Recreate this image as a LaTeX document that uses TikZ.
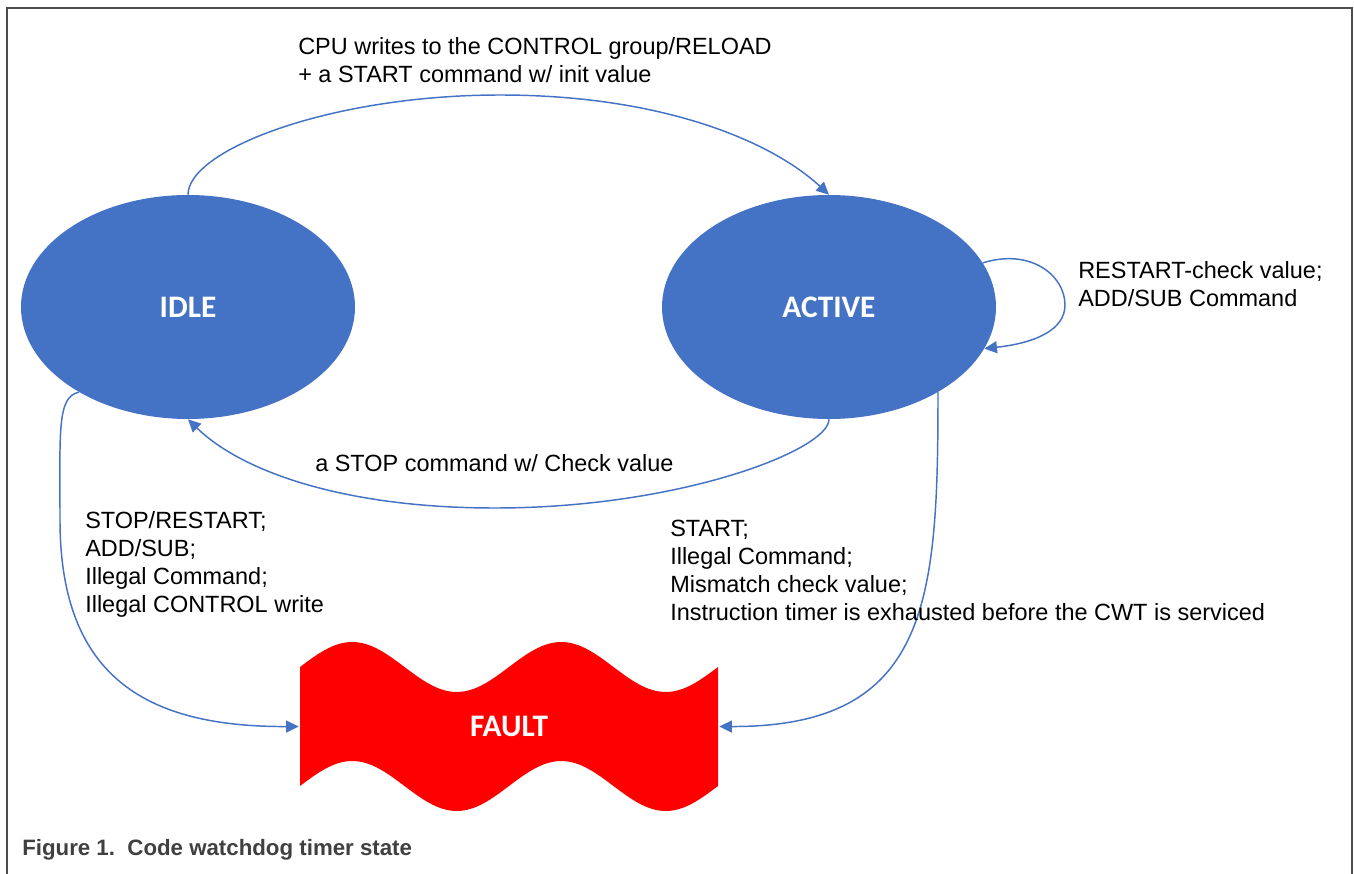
\documentclass[tikz,border=0pt]{standalone}
\usepackage{fontspec}
\setmainfont{Liberation Sans}
\newfontfamily\statefont{Carlito}
\usetikzlibrary{shapes.geometric,arrows.meta}
\definecolor{cwtblue}{HTML}{4472C4}
\definecolor{framegray}{HTML}{4D4D4D}
\definecolor{captiongray}{HTML}{404040}

\begin{document}
\begin{tikzpicture}[x=0.75pt, y=-0.75pt,
    state/.style={ellipse, fill=cwtblue, inner sep=0pt, minimum width=250.5pt, minimum height=168pt,
        text=white, font=\statefont\bfseries\fontsize{23.5}{28}\selectfont},
    trans/.style={draw=cwtblue, line width=1.1pt, -{Triangle[length=9.5pt, width=9pt]}},
    lbl/.style={anchor=west, inner sep=0pt, align=left, font=\fontsize{17.6}{21}\selectfont}]
    \useasboundingbox (0,0) rectangle (1354,874);
    % Frame
    \draw[framegray, line width=1.5pt] (7,874) -- (7,8) -- (1351.5,8) -- (1351.5,874);

    % States
    \node[state] (idle) at (188,307) {IDLE};
    \node[state] (active) at (829,307) {ACTIVE};
    \fill[red] (300,667) sin (352.25,642) cos (404.5,667) sin (456.75,692) cos (509,667)
        sin (561.25,642) cos (613.5,667) sin (665.75,692) cos (718,667) -- (718,786)
        sin (665.75,811) cos (613.5,786) sin (561.25,761) cos (509,786)
        sin (456.75,811) cos (404.5,786) sin (352.25,761) cos (300,786) -- cycle;
    \node[inner sep=0pt, minimum width=315pt, minimum height=89pt, text=white,
        font=\statefont\bfseries\fontsize{23.5}{28}\selectfont] (fault) at (509,726.5) {FAULT};

    % Transitions
    \draw[trans] (idle.north) .. controls (188,150) and (330,95) .. (500,95)
        .. controls (660,95) and (770,140) .. (active.north);
    \draw[trans] (active.south) .. controls (829,450) and (680,508) .. (495,508)
        .. controls (340,508) and (240,470) .. (idle.south);
    \draw[trans] (active.16) .. controls (1030,248) and (1065,275) .. (1065,305)
        .. controls (1065,330) and (1035,343) .. (active.-15);
    \draw[trans] (idle.218) .. controls (57,397) and (60,430) .. (60,520)
        .. controls (60,680) and (150,727) .. (fault.west);
    \draw[trans] (active.-38) .. controls (938,600) and (930,727) .. (fault.east);

    % Labels
    \node[lbl] (lblstart) at (298,60) {CPU writes to the CONTROL group/RELOAD\\+ a START command w/ init value};
    \node[lbl] (lblloop) at (1078,284) {RESTART-check value;\\ADD/SUB Command};
    \node[lbl] (lblstop) at (315,463) {a STOP command w/ Check value};
    \node[lbl] (lblidle) at (85,564) {STOP/RESTART;\\ADD/SUB;\\Illegal Command;\\Illegal CONTROL write};
    \node[lbl] (lblactive) at (670,570.5) {START;\\Illegal Command;\\Mismatch check value;\\Instruction timer is exhausted before the CWT is serviced};
    \node[anchor=west, inner sep=0pt, text=captiongray, font=\bfseries\fontsize{16.7}{20}\selectfont]
        (caption) at (22,850) {Figure 1.\ \ Code watchdog timer state};
\end{tikzpicture}
\end{document}
